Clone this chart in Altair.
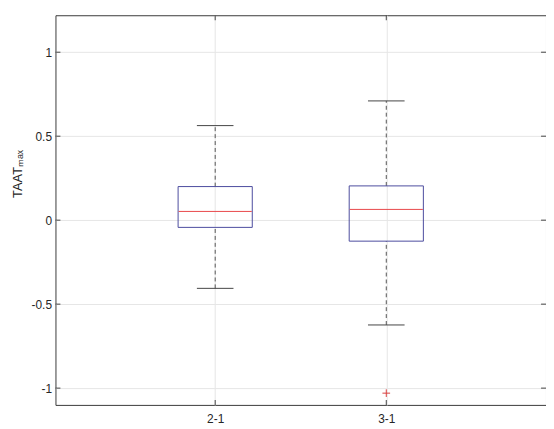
import altair as alt
import pandas as pd

categories = ["2-1", "3-1"]
q1 = [-0.043, -0.125]
median = [0.052, 0.064]
q3 = [0.200, 0.204]
whisker_low = [-0.406, -0.624]
whisker_high = [0.563, 0.710]
outlier_cat = ["3-1"]
outlier_val = [-1.03]
y_ticks = [-1, -0.5, 0, 0.5, 1]

box = pd.DataFrame({"cat": categories, "q1": q1, "median": median, "q3": q3,
                    "lo": whisker_low, "hi": whisker_high})
out = pd.DataFrame({"cat": outlier_cat, "val": outlier_val})
ticks = pd.DataFrame({"t": y_ticks})

FONT = "Liberation Sans"
xsc = alt.Scale(type="point", domain=categories, padding=0.9335)
ysc = alt.Scale(domain=[-1.1, 1.22], nice=False, zero=False)

X = alt.X("cat:N", scale=xsc, sort=categories,
          axis=alt.Axis(title=None, labelAngle=0, domain=False, ticks=False,
                        labelPadding=9, grid=True))
Y_axis = alt.Axis(title="TAATₘₐₓ", values=y_ticks, domain=False, ticks=False,
                  labelExpr="toString(datum.value)",
                  labelPadding=4, grid=True, titleAngle=-90, titleX=-31,
                  titleY=160, titleAlign="center", titleBaseline="bottom",
                  titleFontWeight="normal", titleFontSize=13)

base = alt.Chart(box)

whisk_up = base.mark_rule(color="#555555", strokeDash=[4, 3], strokeWidth=1).encode(
    x=X, y=alt.Y("q3:Q", scale=ysc, axis=Y_axis), y2="hi:Q")
whisk_dn = base.mark_rule(color="#555555", strokeDash=[4, 3], strokeWidth=1).encode(
    x=X, y=alt.Y("lo:Q", scale=ysc), y2="q1:Q")
cap_up = base.mark_rule(color="#444444", strokeWidth=1, xOffset=-18.5, x2Offset=18.5).encode(
    x=X, x2="cat:N", y=alt.Y("hi:Q", scale=ysc))
cap_dn = base.mark_rule(color="#444444", strokeWidth=1, xOffset=-18.5, x2Offset=18.5).encode(
    x=X, x2="cat:N", y=alt.Y("lo:Q", scale=ysc))
boxes = base.mark_bar(size=75, fillOpacity=0, stroke="#4b4b9e", strokeWidth=1).encode(
    x=X, y=alt.Y("q1:Q", scale=ysc), y2="q3:Q")
med = base.mark_rule(color="#e8474a", strokeWidth=1, xOffset=-37, x2Offset=37).encode(
    x=X, x2="cat:N", y=alt.Y("median:Q", scale=ysc))
outl = alt.Chart(out).mark_point(shape="M-1,0L1,0M0,-1L0,1", size=60, filled=False,
                                 color="#d9403f", strokeWidth=1, opacity=1).encode(
    x=X, y=alt.Y("val:Q", scale=ysc))

tk = alt.Chart(ticks)
tick_l = tk.mark_tick(orient="horizontal", size=5, thickness=1, color="#444444",
                      opacity=1).encode(x=alt.value(2.5), y=alt.Y("t:Q", scale=ysc))
tick_r = tk.mark_tick(orient="horizontal", size=5, thickness=1, color="#444444",
                      opacity=1).encode(x=alt.value(493.5), y=alt.Y("t:Q", scale=ysc))
tick_b = base.mark_tick(orient="vertical", size=5, thickness=1, color="#444444",
                        opacity=1).encode(x=X, y=alt.value(391.5))
tick_t = base.mark_tick(orient="vertical", size=5, thickness=1, color="#444444",
                        opacity=1).encode(x=X, y=alt.value(2.5))

chart = alt.layer(whisk_up, whisk_dn, cap_up, cap_dn, boxes, med, outl,
                  tick_l, tick_r, tick_b, tick_t).properties(
    width=496, height=394,
    autosize=alt.AutoSizeParams(type="none"),
    padding={"left": 48, "top": 5, "right": 0, "bottom": 20},
    background="white",
).configure_view(stroke="#3a3a3a", strokeWidth=1).configure_axis(
    labelFont=FONT, titleFont=FONT, labelFontSize=12, labelColor="#262626",
    titleColor="#262626", gridColor="#e6e6e6", gridWidth=1,
)

chart.save("out.html", embed_options={"renderer": "svg", "actions": False})
